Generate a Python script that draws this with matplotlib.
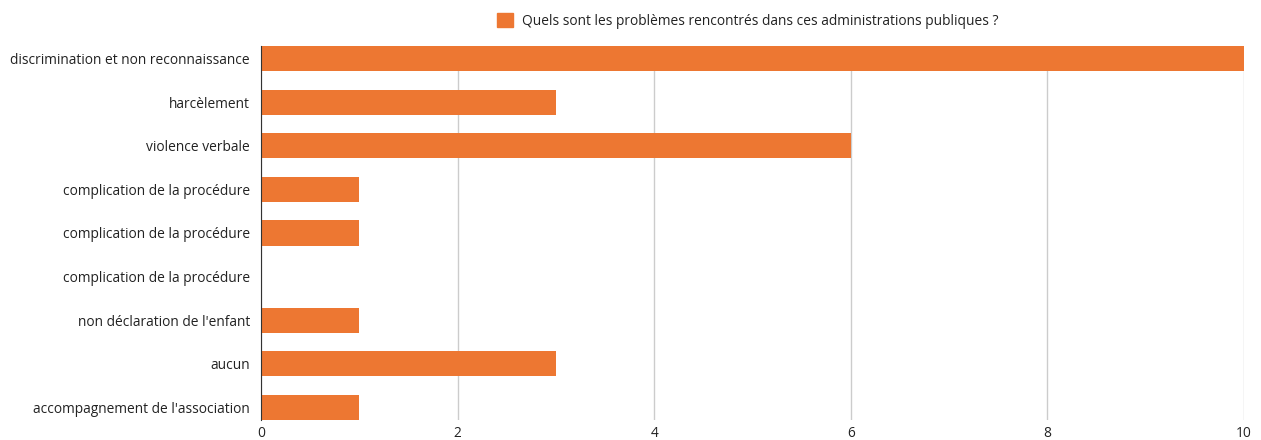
import numpy as np
import matplotlib.pyplot as plt
from matplotlib.patches import Patch

plt.rcParams['font.family'] = ['Open Sans', 'DejaVu Sans']

categories = ["discrimination et non reconnaissance", "harcèlement", "violence verbale",
              "complication de la procédure", "complication de la procédure",
              "complication de la procédure", "non déclaration de l'enfant",
              "aucun", "accompagnement de l'association"]
values = [10, 3, 6, 1, 1, 0, 1, 3, 1]
series_name = "Quels sont les problèmes rencontrés dans ces administrations publiques ?"
color = '#ED7732'

fig = plt.figure(figsize=(12.61, 4.40), dpi=100)
ax = fig.add_axes([261/1261, 20/440, (1244-261)/1261, (420-46)/440])

y = np.arange(len(categories))
h = 0.574
ax.barh(y, values, height=h, color=color, zorder=3)
ax.set_ylim(len(categories) - 1 + h/2, -h/2)
ax.set_xlim(0, 10)
ax.set_xticks([0, 2, 4, 6, 8, 10])
ax.set_yticks(y)
ax.set_yticklabels(categories)
ax.tick_params(axis='both', length=0, labelsize=9.9, colors='#222222')
ax.tick_params(axis='y', pad=8)
ax.tick_params(axis='x', pad=4)
ax.grid(axis='x', color='#cccccc', linewidth=1, zorder=0)
for s in ['top', 'right', 'bottom']:
    ax.spines[s].set_visible(False)
ax.spines['left'].set_color('#333333')
ax.spines['left'].set_zorder(4)

fig.legend(handles=[Patch(color=color)], labels=[series_name],
           loc='center left', bbox_to_anchor=(485/1261, 1 - 21/440),
           frameon=False, fontsize=9.9, handlelength=1.1, handleheight=1.1,
           handletextpad=0.7, labelcolor='#222222')

fig.savefig('out.png', dpi=100)
